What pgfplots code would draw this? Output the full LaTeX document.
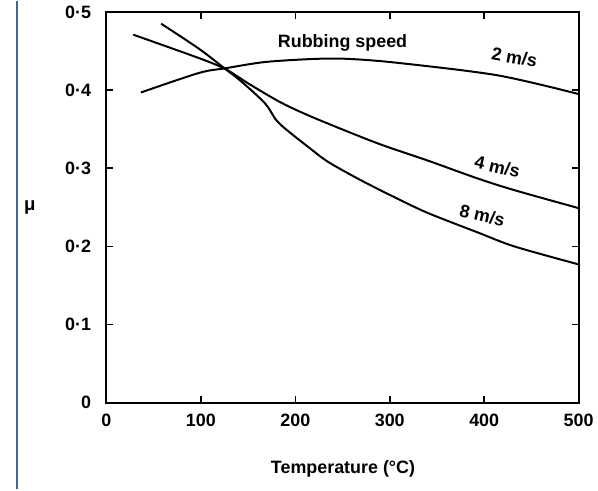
\documentclass[border=0pt]{standalone}
\usepackage{fontspec}
\setmainfont{Liberation Sans}
\usepackage{pgfplots}
\pgfplotsset{compat=1.18}
\definecolor{frameblue}{RGB}{62,102,150}
\begin{document}
\begin{tikzpicture}
\begin{axis}[
  scale only axis,
  width=356.25pt, height=294.75pt,
  xmin=0, xmax=500, ymin=0, ymax=0.5,
  clip=false,
  axis line style={line width=1.4pt},
  tick style={line width=1.2pt, black},
  tick align=inside,
  major tick length=5pt,
  xtick={0,100,200,300,400,500},
  xticklabels={0,100,200,300,400,500},
  ytick={0,0.1,0.2,0.3,0.4,0.5},
  yticklabels={0,0·1,0·2,0·3,0·4,0·5},
  ticklabel style={font=\fontsize{13.5}{16}\selectfont\bfseries},
  yticklabel style={xshift=-8pt},
  xticklabel style={yshift=-5pt},
  /pgf/number format/assume math mode=true,
  xlabel={Temperature (°C)},
  xlabel style={font=\fontsize{13.5}{16}\selectfont\bfseries, at={(axis description cs:0.501,-0.170)}, anchor=center},
  ylabel={μ},
  ylabel style={font=\fontsize{14}{16}\selectfont\bfseries, rotate=-90, at={(axis description cs:-0.162,0.5)}, anchor=center},
]
% 2 m/s
\addplot[black, line width=1.5pt, smooth] coordinates {
(36.5,0.397) (98,0.422) (126,0.428) (168,0.436) (221,0.440) (256,0.440)
(308,0.435) (414,0.419) (500,0.395)};
% 4 m/s
\addplot[black, line width=1.5pt, smooth] coordinates {
(28.4,0.471) (98,0.441) (126,0.427) (151,0.408) (185,0.384) (221,0.364)
(287,0.332) (340,0.310) (393,0.287) (432,0.272) (500,0.249)};
% 8 m/s
\addplot[black, line width=1.5pt, smooth] coordinates {
(58,0.485) (98,0.453) (126,0.427) (143,0.411) (168,0.383) (179,0.363)
(189,0.351) (214,0.327) (235,0.308) (269,0.285) (305,0.263) (340,0.243)
(393,0.218) (432,0.200) (500,0.177)};
\node[font=\fontsize{13.5}{16}\selectfont\bfseries] at (axis cs:250,0.461) {Rubbing speed};
\node[font=\fontsize{13.5}{16}\selectfont\bfseries, rotate=-10] at (axis cs:432,0.442) {2 m/s};
\node[font=\fontsize{13.5}{16}\selectfont\bfseries, rotate=-13] at (axis cs:414,0.302) {4 m/s};
\node[font=\fontsize{13.5}{16}\selectfont\bfseries, rotate=-13] at (axis cs:398,0.240) {8 m/s};
\draw[frameblue, line width=1.6pt] (axis description cs:-0.1895,-0.2214) -- (axis description cs:-0.1895,1.028);
\path (axis description cs:-0.2253,-0.2214) rectangle (axis description cs:1.0337,1.028);
\end{axis}
\end{tikzpicture}
\end{document}
